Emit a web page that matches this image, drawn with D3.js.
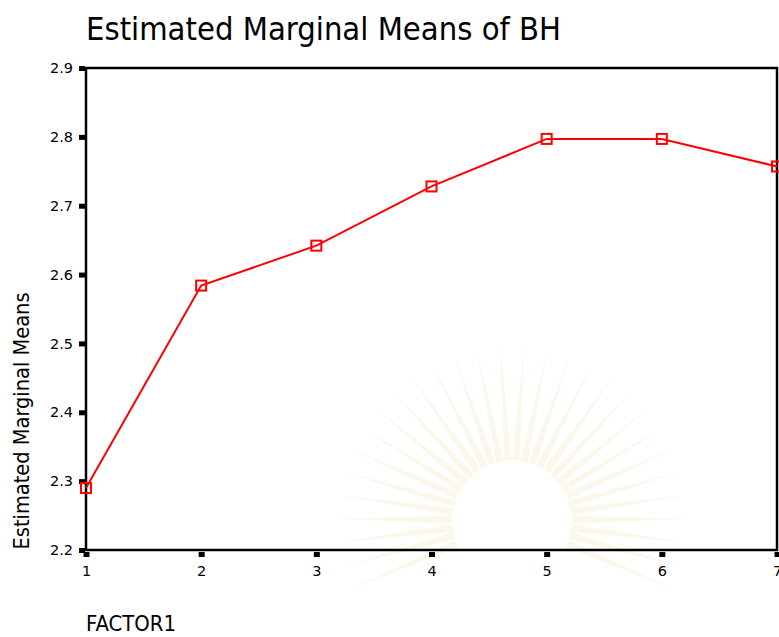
<!DOCTYPE html>
<html><head><meta charset="utf-8">
<script src="https://cdn.jsdelivr.net/npm/d3@7"></script>
<style>body{margin:0;background:#fff}svg{display:block}</style>
</head><body>
<svg id="chart" width="779" height="637"></svg>
<script>
const categories = [1, 2, 3, 4, 5, 6, 7];
const means = [2.290, 2.584, 2.642, 2.728, 2.797, 2.797, 2.757];
const yTicks = [2.2, 2.3, 2.4, 2.5, 2.6, 2.7, 2.8, 2.9];
const titleText = "Estimated Marginal Means of BH";
const yTitle = "Estimated Marginal Means";
const xTitle = "FACTOR1";

const svg = d3.select("#chart");
const font = "Tahoma, 'DejaVu Sans', Verdana, sans-serif";
const L = 86, R = 777, T = 68, B = 550;
const x = d3.scaleLinear().domain([1, 7]).range([L, R]);
const y = d3.scaleLinear().domain([2.2, 2.9]).range([B, T]);

// faint watermark
const wm = svg.append("g").attr("opacity", 0.3);
const cx = 512, cy = 520;
for (let i = 0; i < 30; i++) {
  const a = Math.PI * 0.85 + (i + 0.5) * Math.PI * 1.3 / 30;
  const a1 = a - 0.06, a2 = a + 0.06;
  const r0 = 60, r1 = 175;
  wm.append("path")
    .attr("d", `M${cx + r0 * Math.cos(a1)},${cy + r0 * Math.sin(a1)} L${cx + r1 * Math.cos(a)},${cy + r1 * Math.sin(a)} L${cx + r0 * Math.cos(a2)},${cy + r0 * Math.sin(a2)} Z`)
    .attr("fill", "#f3e8c0");
}

// frame
svg.append("rect").attr("x", L).attr("y", T).attr("width", R - L).attr("height", B - T)
  .attr("fill", "none").attr("stroke", "#000").attr("stroke-width", 2.5);

// y axis
const yAxis = d3.axisLeft(y).tickValues(yTicks).tickSize(0).tickPadding(13).tickFormat(d3.format(".1f"));
const gy = svg.append("g").attr("transform", `translate(${L},0)`).call(yAxis);
gy.select(".domain").remove();
gy.selectAll("text").attr("font-family", font).attr("font-size", 14.5).attr("fill", "#000");
gy.selectAll(".tick").append("rect").attr("x", -7).attr("y", -2.5).attr("width", 6).attr("height", 5).attr("fill", "#000");

// x axis
const xAxis = d3.axisBottom(x).tickValues(categories).tickSize(0).tickPadding(16).tickFormat(d3.format("d"));
const gx = svg.append("g").attr("transform", `translate(0,${B})`).call(xAxis);
gx.select(".domain").remove();
gx.selectAll("text").attr("font-family", font).attr("font-size", 14.5).attr("fill", "#000");
gx.selectAll(".tick").append("rect").attr("x", -3).attr("y", 2).attr("width", 6).attr("height", 5).attr("fill", "#000");

// line
const line = d3.line().x((d, i) => x(categories[i])).y(d => y(d));
svg.append("path").datum(means).attr("d", line).attr("fill", "none").attr("stroke", "#ff0000").attr("stroke-width", 2);
svg.selectAll(".mk").data(means).enter().append("rect")
  .attr("x", (d, i) => x(categories[i]) - 5).attr("y", d => y(d) - 5)
  .attr("width", 10).attr("height", 10)
  .attr("fill", "none").attr("stroke", "#ff0000").attr("stroke-width", 2);

// titles
svg.append("text").attr("x", 86).attr("y", 40).attr("font-family", font).attr("font-size", 32)
  .attr("textLength", 475).attr("lengthAdjust", "spacingAndGlyphs").attr("fill", "#000").text(titleText);
svg.append("text").attr("transform", `translate(29,421) rotate(-90)`).attr("text-anchor", "middle")
  .attr("font-family", font).attr("font-size", 21).attr("textLength", 257).attr("lengthAdjust", "spacingAndGlyphs")
  .attr("fill", "#000").text(yTitle);
svg.append("text").attr("x", 86).attr("y", 631).attr("font-family", font).attr("font-size", 21)
  .attr("textLength", 90).attr("lengthAdjust", "spacingAndGlyphs").attr("fill", "#000").text(xTitle);
</script>
</body></html>
